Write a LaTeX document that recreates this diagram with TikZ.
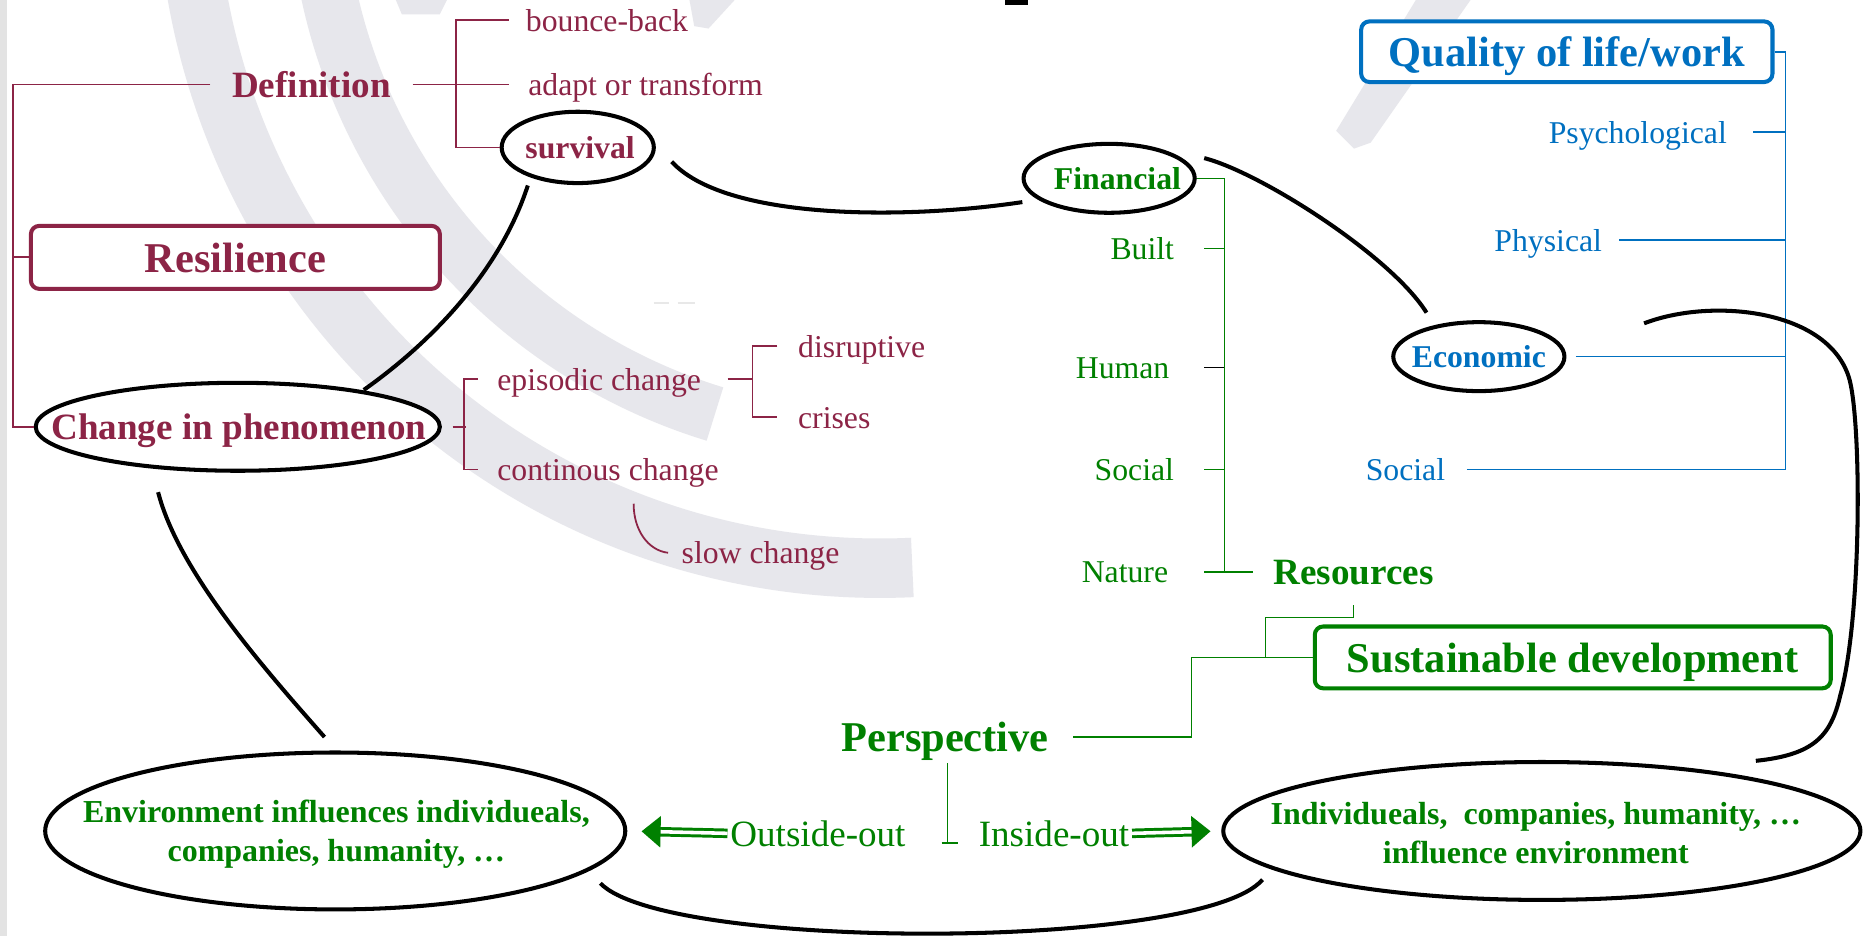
\documentclass[tikz,border=0pt]{standalone}
\usepackage{fontspec}
\setmainfont{Liberation Serif}
\usetikzlibrary{calc,shapes.geometric,arrows.meta}
\definecolor{maroon}{RGB}{140,36,70}
\definecolor{grn}{RGB}{0,128,0}
\definecolor{blu}{RGB}{0,112,192}
\definecolor{wmark}{RGB}{231,231,236}
\newcommand\szS{\fontsize{13.35pt}{16pt}\selectfont}
\newcommand\szT{\fontsize{13.45pt}{16.5pt}\selectfont}
\newcommand\szM{\fontsize{15.6pt}{18pt}\selectfont}
\newcommand\szL{\fontsize{17.85pt}{21pt}\selectfont}
\begin{document}
\begin{tikzpicture}[x=0.5pt,y=-0.5pt,
  txtS/.style={inner sep=0pt, font=\szS, text height=9.35pt, text depth=0pt},
  txtSb/.style={txtS, font=\szS\bfseries},
  txtM/.style={inner sep=0pt, font=\szM, text height=10.9pt, text depth=0pt},
  txtMb/.style={txtM, font=\szM\bfseries},
  txtL/.style={inner sep=0pt, font=\szL\bfseries, text height=12.5pt, text depth=0pt},
  twoline/.style={inner sep=0pt, font=\szT\bfseries, text=grn, align=center},
  ell/.style={ellipse, draw=black, line width=1.7pt, fill=white, inner sep=0pt},
  tbox/.style={draw, rounded corners=3.5pt, line width=1.7pt, fill=white, txtL},
  mline/.style={draw=maroon, line width=0.75pt},
  gline/.style={draw=grn, line width=0.6pt},
  bline/.style={draw=blu, line width=0.7pt},
  conn/.style={draw=black, line width=1.7pt},
  band/.style={draw=wmark, line width=25pt},
  dblarr/.style={draw=grn, line width=1.25pt, double=white, double distance=1.5pt,
                 -{Triangle[length=8pt,width=13pt]}}
]
\useasboundingbox (0,0) rectangle (1568,787);
\clip (0,0) rectangle (1568,787);
\fill[white] (0,0) rectangle (1568,787);

% watermark arcs in the background (two concentric rings of a logo)
\coordinate (wm) at (740,-105);
\draw[band] (wm) ++(180:583) arc[start angle=180, end angle=87.3, radius=583];
\draw[band, line width=23.5pt] (wm) ++(180:474) arc[start angle=180, end angle=107, radius=474];
\fill[wmark] (333,0) -- (376,0) -- (370,12) -- (338,12) -- cycle;
\fill[wmark] (580,0) -- (618,0) -- (596,24) -- (584,22) -- cycle;
\fill[wmark] (1191,0) -- (1237,0) -- (1153,120) -- (1139,125) -- (1124,110) -- cycle;
\draw[gray!18, line width=1pt] (550,255) -- (563,255) (570,255) -- (585,255);
\fill[gray!22] (0,0) rectangle (6,787);
\fill[black] (845,0) rectangle (865,4);

% ---- Resilience branch (maroon)
\node[txtMb, text=maroon, inner xsep=9pt] (defn) at (262,71) {Definition};
\node[txtS, text=maroon, anchor=west, inner xsep=7pt] (bounce) at (428,17) {bounce-back};
\node[txtS, text=maroon, anchor=west, inner xsep=8pt] (adapt) at (428,71) {adapt or transform};
\node[ell, minimum width=64pt, minimum height=30pt] (surv) at (486,124) {};
\node[txtSb, text=maroon] (survt) at ($(surv.center)+(2,0)$) {survival};
\node[tbox, draw=maroon, text=maroon, minimum width=172pt, minimum height=26.5pt] (res) at (198,216.5) {Resilience};
\node[ell, minimum width=170pt, minimum height=37pt] (chg) at (200,359) {};
\node[txtMb, text=maroon] (chgt) at ($(chg.center)+(1,0)$) {Change in phenomenon};
\node[txtS, text=maroon, anchor=west, inner xsep=8pt] (epi) at (402,319) {episodic change};
\node[txtS, text=maroon, anchor=west, inner xsep=8pt] (cont) at (402,395) {continous change};
\node[txtS, text=maroon, anchor=west, inner xsep=8.5pt] (disr) at (654,291) {disruptive};
\node[txtS, text=maroon, anchor=west, inner xsep=8.5pt] (crs) at (654,351) {crises};
\node[txtS, text=maroon, anchor=west, inner xsep=5.5pt] (slow) at (562,465) {slow change};

\coordinate (lft) at (11,0);
\draw[mline] (defn.west) -| (lft |- chg.west) -- (chg.west);
\draw[mline] (res.west) -- (res.west -| lft);
\draw[mline] (defn.east) -- (adapt.west);
\draw[mline] (bounce.west) -| ($(surv.west)+(-37,0)$) -- (surv.west);
\draw[mline] ($(chg.east)+(9,0)$) -- ++(11,0);
\draw[mline] (epi.west) -| ($(cont.west)+(-12,0)$) -- (cont.west);
\draw[mline] ($(epi.east)+(6,0)$) -- ++(21,0);
\draw[mline] (disr.west) -| ($(crs.west)+(-21,0)$) -- (crs.west);
\draw[mline] ($(cont.south west)+(131,19)$) .. controls +(0,22) and +(-17,-2) .. (slow.west);

% ---- Resources branch (green)
\node[ell, minimum width=72pt, minimum height=29pt] (fin) at (933,150) {};
\node[txtSb, text=grn] (fint) at ($(fin.center)+(7,0)$) {Financial};
\node[txtS, text=grn, anchor=east, inner xsep=12.5pt] (built) at (1013,209) {Built};
\node[txtS, text=grn, anchor=east, inner xsep=14.5pt] (human) at (1013,309) {Human};
\node[txtS, text=grn, anchor=east, inner xsep=12.5pt] (socg) at (1013,395) {Social};
\node[txtS, text=grn, anchor=east, inner xsep=15pt] (nat) at (1013,481) {Nature};
\node[txtMb, text=grn, anchor=west, inner xsep=8.5pt, inner ysep=8.5pt] (rsc) at (1054,481) {Resources};
\node[tbox, draw=grn, text=grn, minimum width=217pt, minimum height=26pt] (sust) at (1323,553) {Sustainable development};
\node[txtL, text=grn, inner xsep=10pt] (persp) at (795,620) {Perspective};
\node[txtM, text=grn, anchor=west, inner xsep=1pt] (outs) at (612,701) {Outside-out};
\node[txtM, text=grn, anchor=west, inner xsep=1pt] (ins) at (821,701) {Inside-out};
\node[ell, minimum width=244pt, minimum height=66pt] (env) at (282,699) {};
\node[twoline] (envt) at ($(env.center)+(1,3)$) {Environment influences individueals,\\companies, humanity, …};
\node[ell, minimum width=268pt, minimum height=58pt] (ind) at (1297,699) {};
\node[twoline] (indt) at ($(ind.center)+(-5,2)$) {Individueals,~~companies, humanity, …\\influence environment};

\coordinate (gv) at (1030,150);
\draw[gline] (fin.east) -- (gv) -- (gv |- nat.east);
\draw[gline] (built.east) -- (built.east -| gv);
\draw[black, line width=0.6pt] (human.east) -- (human.east -| gv);
\draw[gline] (socg.east) -- (socg.east -| gv);
\draw[gline] (nat.east) -- (rsc.west);
\draw[gline] (rsc.south) -- ++(0,10) -| ($(sust.west)+(-40,0)$);
\draw[gline] (persp.east) -| ($(sust.west)+(-102,0)$) -- (sust.west);
\coordinate (pf) at (797,709);
\draw[gline] ($(persp.south)+(2,9)$) -- (pf);
\draw[gline] ($(pf)+(-5,0)$) -- ($(pf)+(9,0)$);
\draw[dblarr, shorten >=6pt] (outs.west) -- (env.east);
\draw[dblarr, shorten >=4.5pt] (ins.east) -- (ind.west);

% ---- Quality of life branch (blue)
\node[tbox, draw=blu, text=blu, minimum width=173pt, minimum height=25.5pt] (qual) at (1318,43.5) {Quality of life/work};
\node[txtS, text=blu, anchor=east, inner xsep=11pt] (psych) at (1475,111) {Psychological};
\node[txtS, text=blu, anchor=east, inner xsep=7pt] (phys) at (1362,202) {Physical};
\node[ell, minimum width=72pt, minimum height=29pt] (eco) at (1244,300) {};
\node[txtSb, text=blu] (ecot) at (eco.center) {Economic};
\node[txtS, text=blu, anchor=east, inner xsep=9pt] (socb) at (1234,395) {Social};

\coordinate (bv) at (1502,43.5);
\draw[bline] (qual.east) -- (bv) -- (bv |- socb.east);
\draw[bline] (psych.east) -- (psych.east -| bv);
\draw[bline] (phys.east) -- (phys.east -| bv);
\draw[bline] ($(eco.east)+(8,0)$) -- (bv |- eco.east);
\draw[bline] (socb.east) -- (socb.east -| bv);

% ---- black links between the ellipses
\draw[conn] ($(surv.center)+(-42,32)$) .. controls +(-24,74) and +(54,-38) .. ($(chg.center)+(106,-31)$);
\draw[conn] ($(surv.center)+(79,12)$) .. controls +(45,49) and +(-100,15) .. ($(fin.center)+(-73,20)$);
\draw[conn] ($(fin.center)+(80,-17)$) .. controls +(47,12) and +(-30,-48) .. ($(eco.center)+(-44,-37)$);
\draw[conn] ($(eco.center)+(139,-28)$) .. controls +(57,-22) and +(-16,-60) .. ++(173,48)
            .. controls +(10,40) and +(18,-65) .. ++(-8,265)
            .. controls +(-8,35) and +(48,-5) .. ($(ind.center)+(180,-59)$);
\draw[conn] ($(chg.center)+(-67,55)$) .. controls +(17,66) and +(-53,-60) .. ($(env.center)+(-9,-79)$);
\draw[conn] ($(env.center)+(223,44)$) .. controls +(55,57) and +(-52,60) .. ($(ind.center)+(-235,41)$);
\end{tikzpicture}
\end{document}
